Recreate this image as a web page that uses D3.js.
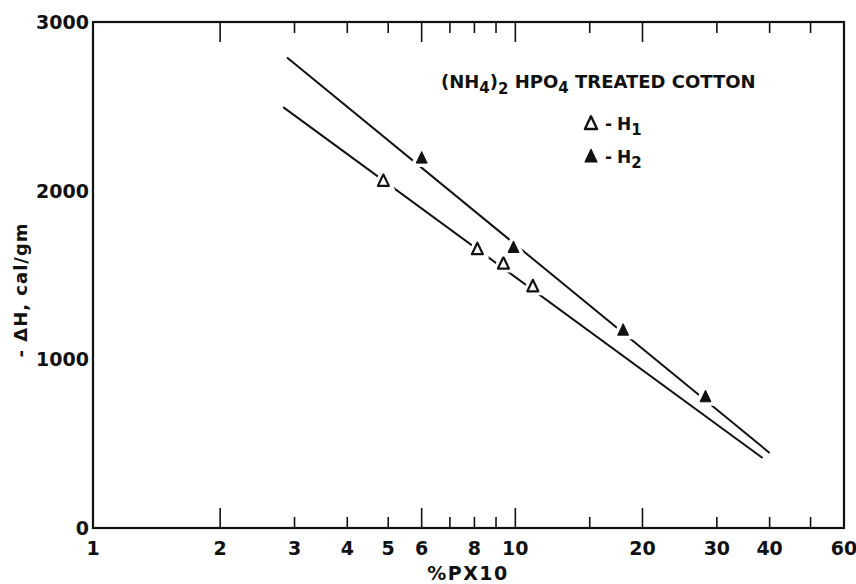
<!DOCTYPE html>
<html>
<head>
<meta charset="utf-8">
<script src="https://cdn.jsdelivr.net/npm/d3@7"></script>
<style>
  body { margin: 0; background: #fff; }
  text { font-family: "DejaVu Sans", sans-serif; fill: #111; font-weight: bold; }
</style>
</head>
<body>
<div id="chart"></div>
<script>
const width = 856
const height = 584
const margin = {top: 22, bottom: 56, left: 93, right: 12}
const netWidth = width - margin.left - margin.right
const netHeight = height - margin.top - margin.bottom

// Data
const xTicks = [2, 3, 4, 5, 6, 7, 8, 9, 10, 15, 20, 30, 40, 50]
const longTicks = [2, 6, 10, 20]
const xLabels = [1, 2, 3, 4, 5, 6, 8, 10, 20, 30, 40, 60]
const yLabels = [0, 1000, 2000, 3000]

const h1X = [4.87, 8.13, 9.37, 11.0]
const h1Y = [2055, 1650, 1565, 1430]
const h2X = [6.0, 9.9, 18.0, 28.2]
const h2Y = [2190, 1660, 1170, 775]

const fitH1X = [2.82, 38.5]
const fitH1Y = [2495, 415]
const fitH2X = [2.88, 40]
const fitH2Y = [2790, 445]

const svg = d3.select("div#chart").append("svg").attr("width", width).attr("height", height)
const g = svg.append("g").attr("transform", `translate(${margin.left}, ${margin.top})`)

const x = d3.scaleLog().domain([1, 60]).range([0, netWidth])
const y = d3.scaleLinear().domain([0, 3000]).range([netHeight, 0])

// Frame
g.append("rect")
    .attr("x", 0).attr("y", 0)
    .attr("width", netWidth).attr("height", netHeight)
    .attr("fill", "none").attr("stroke", "#111").attr("stroke-width", 2.2)

// Inward ticks, top and bottom
const tickLen = d => longTicks.includes(d) ? 20 : 11
g.append("g").selectAll("line.bt").data(xTicks).enter().append("line")
    .attr("x1", d => x(d)).attr("x2", d => x(d))
    .attr("y1", netHeight).attr("y2", d => netHeight - tickLen(d))
    .attr("stroke", "#111").attr("stroke-width", 1.6)
g.append("g").selectAll("line.tt").data(xTicks).enter().append("line")
    .attr("x1", d => x(d)).attr("x2", d => x(d))
    .attr("y1", 0).attr("y2", d => tickLen(d))
    .attr("stroke", "#111").attr("stroke-width", 1.6)

// Tick labels
g.append("g").selectAll("text").data(xLabels).enter().append("text")
    .attr("x", d => x(d)).attr("y", netHeight + 27)
    .attr("text-anchor", "middle")
    .attr("font-size", 19)
    .text(d => d)
g.append("g").selectAll("text").data(yLabels).enter().append("text")
    .attr("x", -4).attr("y", d => y(d) + 7)
    .attr("text-anchor", "end")
    .attr("font-size", 19)
    .text(d => d)

// Axis titles
svg.append("text")
    .attr("x", 468).attr("y", 580)
    .attr("text-anchor", "middle").attr("font-size", 19)
    .attr("letter-spacing", 1.5)
    .text("%PX10")
svg.append("text")
    .attr("transform", "translate(27, 290) rotate(-90)")
    .attr("text-anchor", "middle").attr("font-size", 18)
    .attr("letter-spacing", 1)
    .text("- ΔH, cal/gm")

// Fitted lines
const line = d3.line().x(d => x(d[0])).y(d => y(d[1]))
const fits = [d3.zip(fitH1X, fitH1Y), d3.zip(fitH2X, fitH2Y)]
g.append("g").selectAll("path").data(fits).enter().append("path")
    .attr("d", line)
    .attr("fill", "none").attr("stroke", "#111").attr("stroke-width", 2)

// Triangle markers
const tri = "M0,-7L5.5,4.5L-5.5,4.5Z"
function markers(xs, ys, filled) {
    const pts = d3.zip(xs, ys)
    const mg = g.append("g")
    mg.selectAll("path.halo").data(pts).enter().append("path")
        .attr("d", tri)
        .attr("transform", d => `translate(${x(d[0])}, ${y(d[1])})`)
        .attr("fill", "#fff").attr("stroke", "#fff").attr("stroke-width", 8)
    mg.selectAll("path.mark").data(pts).enter().append("path")
        .attr("d", tri)
        .attr("transform", d => `translate(${x(d[0])}, ${y(d[1])})`)
        .attr("fill", filled ? "#111" : "#fff")
        .attr("stroke", "#111").attr("stroke-width", filled ? 1 : 2.2)
        .attr("stroke-linejoin", "round")
}
markers(h1X, h1Y, false)
markers(h2X, h2Y, true)

// Legend
const title = svg.append("text").attr("x", 441).attr("y", 88).attr("font-size", 18)
title.append("tspan").text("(NH")
title.append("tspan").attr("dy", 5).attr("font-size", 15).text("4")
title.append("tspan").attr("dy", -5).text(")")
title.append("tspan").attr("dy", 6).attr("font-size", 15).text("2")
title.append("tspan").attr("dy", -6).text(" HPO")
title.append("tspan").attr("dy", 5).attr("font-size", 15).text("4")
title.append("tspan").attr("dy", -5).text(" TREATED COTTON")

const legend = [["1", false, 124], ["2", true, 157]]
legend.forEach(([sub, filled, ly]) => {
    svg.append("path").attr("d", tri)
        .attr("transform", `translate(591, ${ly}) scale(1.1)`)
        .attr("fill", filled ? "#111" : "#fff")
        .attr("stroke", "#111").attr("stroke-width", filled ? 1 : 2.2)
        .attr("stroke-linejoin", "round")
    const t = svg.append("text").attr("x", 605).attr("y", ly + 6).attr("font-size", 17)
    t.append("tspan").text("-").attr("letter-spacing", 5)
    t.append("tspan").text("H")
    t.append("tspan").attr("dy", 5).attr("font-size", 15).text(sub)
})
</script>
</body>
</html>
